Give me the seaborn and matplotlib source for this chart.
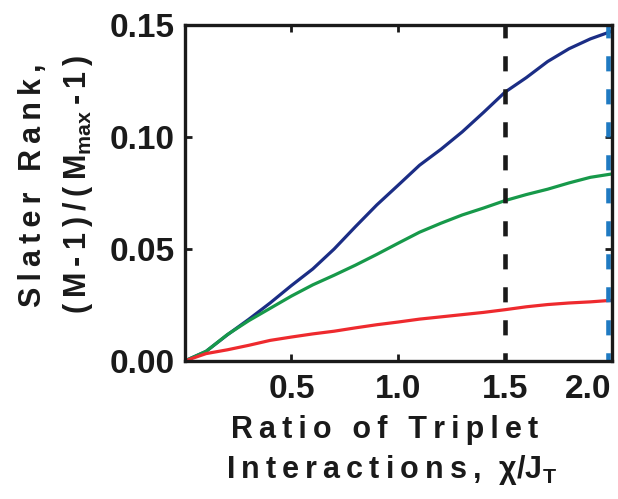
import numpy as np
import pandas as pd
import matplotlib
matplotlib.use("Agg")
import matplotlib.pyplot as plt
import seaborn as sns

# ---- data ----
ratio = [0.0, 0.1, 0.2, 0.3, 0.4, 0.5, 0.6, 0.7, 0.8, 0.9, 1.0,
         1.1, 1.2, 1.3, 1.4, 1.5, 1.6, 1.7, 1.8, 1.9, 2.0]
rank_blue = [0.0, 0.0043, 0.0117, 0.0186, 0.0259, 0.0337, 0.0411, 0.0500, 0.0600, 0.0697, 0.0785,
             0.0874, 0.0945, 0.1023, 0.1110, 0.1200, 0.1265, 0.1337, 0.1394, 0.1438, 0.1472]
rank_green = [0.0, 0.0043, 0.0118, 0.0180, 0.0235, 0.0290, 0.0340, 0.0383, 0.0428, 0.0476, 0.0526,
              0.0575, 0.0615, 0.0652, 0.0683, 0.0716, 0.0743, 0.0767, 0.0795, 0.0820, 0.0835]
rank_red = [0.0, 0.0033, 0.0050, 0.0070, 0.0092, 0.0107, 0.0121, 0.0133, 0.0148, 0.0162, 0.0174,
            0.0187, 0.0197, 0.0207, 0.0217, 0.0229, 0.0242, 0.0252, 0.0259, 0.0264, 0.0271]
series_names = ["blue", "green", "red"]
series_colors = ["#1b2d85", "#17994a", "#ee2a2e"]
vline_black = 1.5
vline_blue = 1.985
xtick_vals = [0.5, 1.0, 1.5, 2.0]
xtick_labels = ["0.5", "1.0", "1.5", "2.0"]
ytick_vals = [0.0, 0.05, 0.10, 0.15]
ytick_labels = ["0.00", "0.05", "0.10", "0.15"]

df = pd.DataFrame({
    "x": ratio * 3,
    "y": rank_blue + rank_green + rank_red,
    "s": [series_names[0]] * len(ratio) + [series_names[1]] * len(ratio) + [series_names[2]] * len(ratio),
})

sns.set_style("ticks")
plt.rcParams["font.family"] = ["Liberation Sans", "DejaVu Sans"]
plt.rcParams["font.weight"] = "bold"
plt.rcParams["mathtext.fontset"] = "custom"
plt.rcParams["mathtext.rm"] = "Liberation Sans:bold"
plt.rcParams["mathtext.it"] = "Liberation Sans:bold"
plt.rcParams["mathtext.bf"] = "Liberation Sans:bold"

fig = plt.figure(figsize=(6.18, 4.99), dpi=100)
ax = fig.add_axes([184.7 / 618, 1 - 361 / 499, (611.7 - 184.7) / 618, (361 - 25) / 499])

sns.lineplot(data=df, x="x", y="y", hue="s", palette=dict(zip(series_names, series_colors)),
             linewidth=2.3, legend=False, ax=ax, sort=False)

lw_d = 3.3
ax.axvline(vline_black, color="#1a1a1a", linewidth=lw_d, linestyle=(1.5, (3.3, 3.9)), zorder=3)
ax.axvline(vline_blue, color="#1f7ac2", linewidth=lw_d, linestyle=(1.5, (3.3, 3.9)), zorder=3)

ax.set_xlim(0, 2.0)
ax.set_ylim(0, 0.15)
ax.set_xticks(xtick_vals)
ax.set_xticklabels(xtick_labels)
ax.set_yticks(ytick_vals)
ax.set_yticklabels(ytick_labels)
for lab in ax.get_xticklabels():
    lab.set_fontweight("bold")
for lab in ax.get_yticklabels():
    lab.set_fontweight("bold")
ax.get_xticklabels()[-1].set_horizontalalignment("right")
ax.tick_params(axis="both", direction="in", length=5, width=2, labelsize=24,
               top=True, right=True, colors="#1a1a1a")
ax.tick_params(axis="x", pad=9)
ax.tick_params(axis="y", pad=7)
for sp in ax.spines.values():
    sp.set_linewidth(2.4)
    sp.set_color("#1a1a1a")
    sp.set_zorder(5)
ax.set_xlabel("")
ax.set_ylabel("")

def spaced(s):
    return "\u2009".join(list(s))

lab_kw = dict(fontsize=22, fontweight="bold", color="#1a1a1a", ha="center", va="center")
fig.text(385 / 618, 1 - 430 / 499, spaced("Ratio of Triplet"), **lab_kw)
fig.text(392 / 618, 1 - 470 / 499,
         spaced("Interactions,") + "\u2009\u2009\u2009" + "χ/J$_{\\mathrm{T}}$", **lab_kw)
fig.text(33 / 618, 1 - 185 / 499, spaced("Slater Rank,"), rotation=90, **lab_kw)
fig.text(78 / 618, 1 - 184 / 499,
         "\u2009".join(list("(M-1)/(M")) + "$_{\\mathrm{max}}$" + "\u2009" + spaced("-1)"),
         rotation=90, **lab_kw)

fig.savefig("out.png", dpi=100)
